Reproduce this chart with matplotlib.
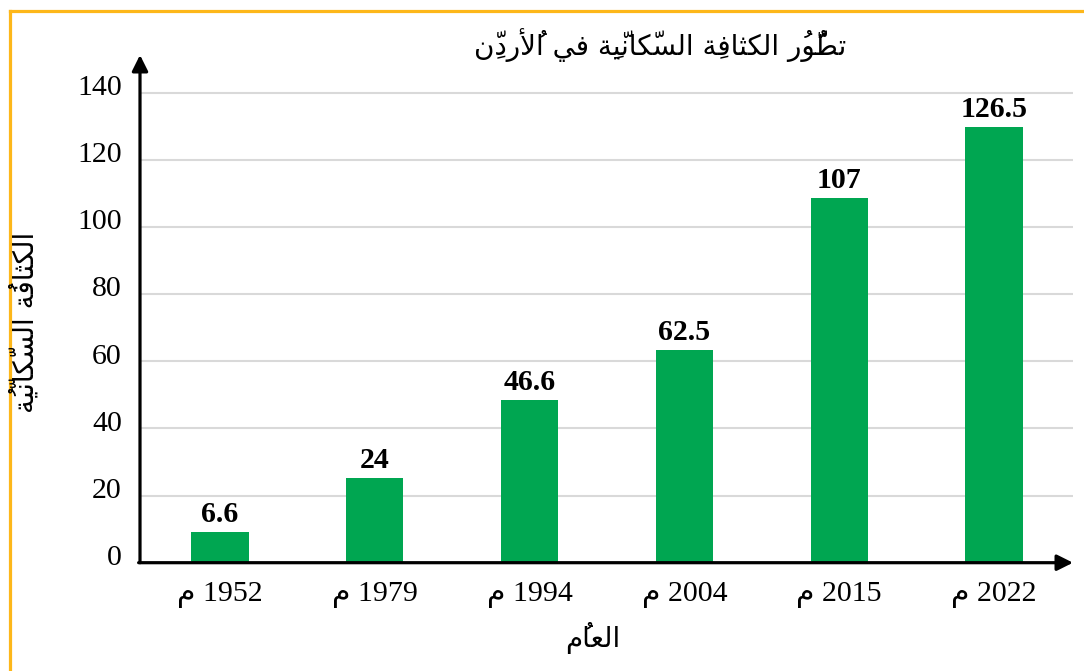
import matplotlib
matplotlib.use('Agg')
import matplotlib.pyplot as plt
from matplotlib.lines import Line2D
from matplotlib.transforms import ScaledTranslation

# ---------------- data ----------------
years = ['1952', '1979', '1994', '2004', '2015', '2022']
density_labels = ['6.6', '24', '46.6', '62.5', '107', '126.5']
bar_heights = [9.2, 25.1, 48.5, 63.4, 108.7, 129.8]
y_ticks = [0, 20, 40, 60, 80, 100, 120, 140]
title_text = 'تطوُّرُ الكثافةِ السكّانيّةِ في الأُردنِّ'
ylabel_text = 'الكثافةُ السكّانيّةُ'
xlabel_text = 'العامُ'
year_suffix = 'م'

# ---------------- minimal Arabic shaping (matplotlib has no RTL shaping) ----------------
FORMS = {
    '\u0627': ('\uFE8D', '\uFE8E', None, None),
    '\u0623': ('\uFE83', '\uFE84', None, None),
    '\u062A': ('\uFE95', '\uFE96', '\uFE97', '\uFE98'),
    '\u062B': ('\uFE99', '\uFE9A', '\uFE9B', '\uFE9C'),
    '\u062F': ('\uFEA9', '\uFEAA', None, None),
    '\u0631': ('\uFEAD', '\uFEAE', None, None),
    '\u0633': ('\uFEB1', '\uFEB2', '\uFEB3', '\uFEB4'),
    '\u0637': ('\uFEC1', '\uFEC2', '\uFEC3', '\uFEC4'),
    '\u0639': ('\uFEC9', '\uFECA', '\uFECB', '\uFECC'),
    '\u0641': ('\uFED1', '\uFED2', '\uFED3', '\uFED4'),
    '\u0643': ('\uFED9', '\uFEDA', '\uFEDB', '\uFEDC'),
    '\u0644': ('\uFEDD', '\uFEDE', '\uFEDF', '\uFEE0'),
    '\u0645': ('\uFEE1', '\uFEE2', '\uFEE3', '\uFEE4'),
    '\u0646': ('\uFEE5', '\uFEE6', '\uFEE7', '\uFEE8'),
    '\u0629': ('\uFE93', '\uFE94', None, None),
    '\u0648': ('\uFEED', '\uFEEE', None, None),
    '\u064A': ('\uFEF1', '\uFEF2', '\uFEF3', '\uFEF4'),
}
LAM_ALEF = {'\u0627': ('\uFEFB', '\uFEFC'), '\u0623': ('\uFEF7', '\uFEF8')}


def is_mark(c):
    return '\u064B' <= c <= '\u0652' or c == '\u0670'


def shape(text):
    clusters = []
    for ch in text:
        if is_mark(ch) and clusters:
            clusters[-1][1].append(ch)
        else:
            clusters.append([ch, []])
    merged = []
    i = 0
    while i < len(clusters):
        b, m = clusters[i]
        if b == '\u0644' and i + 1 < len(clusters) and clusters[i + 1][0] in LAM_ALEF:
            merged.append(['LA' + clusters[i + 1][0], m + clusters[i + 1][1]])
            i += 2
        else:
            merged.append([b, m])
            i += 1

    def arabic(b):
        return b in FORMS or b.startswith('LA')

    def joins_next(b):
        return b in FORMS and FORMS[b][2] is not None

    out = []
    for i, (b, m) in enumerate(merged):
        prev = merged[i - 1][0] if i > 0 else None
        nxt = merged[i + 1][0] if i + 1 < len(merged) else None
        pj = prev is not None and joins_next(prev) and arabic(b)
        if b.startswith('LA'):
            g = LAM_ALEF[b[2]][1 if pj else 0]
        elif b in FORMS:
            f = FORMS[b]
            nj = f[2] is not None and nxt is not None and arabic(nxt)
            if pj and nj:
                g = f[3]
            elif pj:
                g = f[1]
            elif nj:
                g = f[2]
            else:
                g = f[0]
        else:
            g = b
        out.append((g, ''.join(m)))
    # visual order: reverse clusters, keep digit runs left-to-right
    tokens = []
    for g, m in out:
        if (g.isdigit() or g == '.') and tokens and tokens[-1][0] == 'num':
            tokens[-1][1] += g
        elif g.isdigit():
            tokens.append(['num', g])
        else:
            tokens.append(['ar', g + m])
    return ''.join(t[1] for t in reversed(tokens))


# ---------------- figure ----------------
W, H = 1084, 671
fig = plt.figure(figsize=(W / 100, H / 100), dpi=100)
fig.patch.set_facecolor('white')

ax_left, ax_right = 140 / W, 1073 / W
ax_bottom, ax_top = 1 - 562.7 / H, 1 - 55 / H
ax = fig.add_axes([ax_left, ax_bottom, ax_right - ax_left, ax_top - ax_bottom])

x = list(range(len(years)))
ax.bar(x, bar_heights, width=0.37, color='#00A651', zorder=3)

serif = ['Liberation Serif', 'DejaVu Serif']
for xi, h, lab in zip(x, bar_heights, density_labels):
    ax.annotate(lab, (xi, h), xytext=(0, 3), textcoords='offset points',
                ha='center', va='bottom', fontsize=21.5, fontweight='bold',
                family=serif, color='black', zorder=4)

ax.set_xlim(-0.517, 5.51)
ax.set_ylim(0, 151.2)
ax.set_yticks(y_ticks)
ax.set_yticklabels([str(v) for v in y_ticks], family=serif, fontsize=21.5)
ax.set_xticks(x)
ax.set_xticklabels([shape(y + ' ' + year_suffix) for y in years],
                   family=['Liberation Serif', 'DejaVu Sans'], fontsize=21.5)
ax.tick_params(axis='both', length=0)
ax.tick_params(axis='y', pad=13)
ax.tick_params(axis='x', pad=14)
for lbl in ax.get_yticklabels():
    lbl.set_transform(lbl.get_transform() + ScaledTranslation(0, 5.5 / 72, fig.dpi_scale_trans))

for v in y_ticks[1:]:
    ax.axhline(v, color='#d9d9d9', lw=1.5, zorder=1)

for s in ax.spines.values():
    s.set_visible(False)

arrow_kw = dict(arrowstyle='-|>', lw=2.3, color='black', mutation_scale=24,
                shrinkA=0, shrinkB=0)
ax.annotate('', xy=(0, 1), xytext=(0, 0), xycoords='axes fraction',
            arrowprops=arrow_kw, annotation_clip=False, zorder=5)
ax.annotate('', xy=(1, 0), xytext=(-0.0015, 0), xycoords='axes fraction',
            arrowprops=arrow_kw, annotation_clip=False, zorder=5)

ar_font = ['DejaVu Sans']
fig.text(660 / W, 1 - 45 / H, shape(title_text), ha='center', va='center',
         fontsize=20, family=ar_font)
fig.text(25 / W, 1 - 322 / H, shape(ylabel_text), ha='center', va='center',
         rotation=90, fontsize=20, family=ar_font)
fig.text(593 / W, 1 - 638 / H, shape(xlabel_text), ha='center', va='center',
         fontsize=20, family=ar_font)

# orange frame (top and left visible)
frame_c = '#FDB71A'
fig.add_artist(Line2D([9.5 / W, 1.0], [1 - 11 / H, 1 - 11 / H], transform=fig.transFigure,
                      color=frame_c, lw=2.3))
fig.add_artist(Line2D([9.5 / W, 9.5 / W], [0, 1 - 11 / H], transform=fig.transFigure,
                      color=frame_c, lw=2.3))

fig.savefig('out.png', dpi=100)
